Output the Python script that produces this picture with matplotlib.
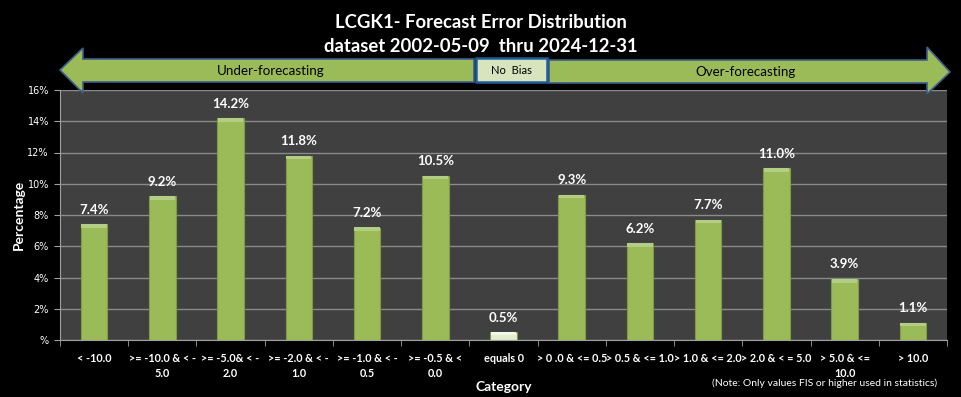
import numpy as np
import matplotlib.pyplot as plt
from matplotlib.patches import Polygon, Rectangle

plt.rcParams['font.family'] = ['Lato', 'DejaVu Sans']

categories = ['< -10.0', '>= -10.0 & < -\n5.0', '>= -5.0& < -\n2.0', '>= -2.0 & < -\n1.0',
              '>= -1.0 & < -\n0.5', '>= -0.5 & <\n0.0', 'equals 0', '> 0 .0 & <= 0.5',
              '> 0.5 & <= 1.0', '> 1.0 & <= 2.0', '> 2.0 & < = 5.0', '> 5.0 & <=\n10.0', '> 10.0']
values = [7.4, 9.2, 14.2, 11.8, 7.2, 10.5, 0.5, 9.3, 6.2, 7.7, 11.0, 3.9, 1.1]
ytick_vals = [0, 2, 4, 6, 8, 10, 12, 14, 16]
ytick_labels = ['%', '2%', '4%', '6%', '8%', '10%', '12%', '14%', '16%']

W, H = 961, 397
fig = plt.figure(figsize=(W / 100, H / 100), dpi=100, facecolor='black')
ax = fig.add_axes([60 / W, 1 - 340 / H, 887 / W, 250 / H])
ax.set_facecolor('#404040')

x = np.arange(len(values))
colors = ['#e4edd0' if c == 'equals 0' else '#9bbb59' for c in categories]
caps = ['#f4f8ea' if c == 'equals 0' else '#b4cd84' for c in categories]
ax.bar(x, values, width=0.39, color=colors, edgecolor='#7f9c45', linewidth=0.8, zorder=3)
cap_h = [min(0.22, v * 0.4) for v in values]
ax.bar(x, cap_h, bottom=np.array(values) - np.array(cap_h), width=0.37,
       color=caps, edgecolor='none', zorder=4)

for xi, v in zip(x, values):
    ax.text(xi, v + 0.55, f'{v:.1f}%', ha='center', va='bottom', color='white',
            fontsize=9.5, fontweight='bold', zorder=5)

ax.set_xlim(-0.5, len(values) - 0.5)
ax.set_ylim(0, 16)
ax.set_yticks(ytick_vals)
ax.set_yticklabels(ytick_labels, color='white', fontsize=7, family=['DejaVu Sans'])
ax.yaxis.grid(True, color='#8a8a8a', linewidth=1, zorder=0)
ax.set_axisbelow(True)

ax.set_xticks(x)
ax.set_xticklabels(categories, color='white', fontsize=7.8, fontweight='bold', linespacing=1.45)
ax.tick_params(axis='x', length=0, pad=9)
ax.set_xticks(np.arange(len(values) + 1) - 0.5, minor=True)
ax.tick_params(axis='x', which='minor', length=4, color='#a0a0a0')
ax.tick_params(axis='y', length=4, color='#a0a0a0', pad=4)

for s in ['top', 'right']:
    ax.spines[s].set_visible(False)
ax.spines['left'].set_color('#a0a0a0')
ax.spines['bottom'].set_color('#a0a0a0')

ax.set_ylabel('Percentage', color='white', fontsize=10, fontweight='bold', labelpad=2)
ax.set_xlabel('Category', color='white', fontsize=10, fontweight='bold', labelpad=2)

fig.text(0.5, 1 - 22 / H, 'LCGK1- Forecast Error Distribution', ha='center', va='center',
         color='white', fontsize=13.3, fontweight='bold')
fig.text(0.5, 1 - 47 / H, 'dataset 2002-05-09  thru 2024-12-31', ha='center', va='center',
         color='white', fontsize=13.3, fontweight='bold')
fig.text(937 / W, 1 - 383 / H, '(Note: Only values FIS or higher used in statistics)',
         ha='right', va='center', color='white', fontsize=7.5)


def px(pts):
    return [(a / W, 1 - b / H) for a, b in pts]


left_arrow = px([(60, 70), (83, 48), (83, 59), (474, 59), (474, 82), (83, 82), (83, 93)])
right_arrow = px([(950, 72), (927, 47), (927, 60), (549, 60), (549, 83), (927, 83), (927, 94)])
for pts in (left_arrow, right_arrow):
    fig.patches.append(Polygon(pts, closed=True, facecolor='#9bbb59', edgecolor='#3b5e8c',
                               linewidth=1.2, transform=fig.transFigure, zorder=5))
fig.patches.append(Rectangle((476 / W, 1 - 82 / H), 71 / W, 24 / H, facecolor='#d7e4bd',
                             edgecolor='#1f5d99', linewidth=1.8, transform=fig.transFigure, zorder=5))
fig.text(271 / W, 1 - 71 / H, 'Under-forecasting', ha='center', va='center', fontsize=9.6, color='black', zorder=6)
fig.text(745 / W, 1 - 72 / H, 'Over-forecasting', ha='center', va='center', fontsize=9.6, color='black', zorder=6)
fig.text(511 / W, 1 - 70 / H, 'No  Bias', ha='center', va='center', fontsize=8, color='black', zorder=6)

fig.savefig('out.png', dpi=100, facecolor='black')
